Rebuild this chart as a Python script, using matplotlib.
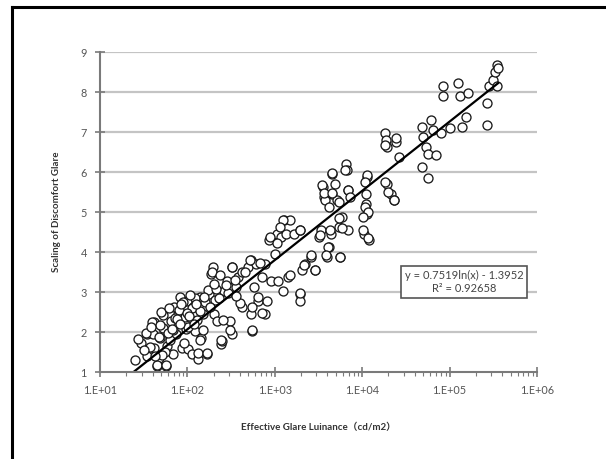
import matplotlib
matplotlib.use("Agg")
import matplotlib.pyplot as plt
import numpy as np
from matplotlib.lines import Line2D
from matplotlib.ticker import LogLocator, NullFormatter, FixedLocator

# log10 of effective glare luminance and the glare rating for each subject answer
log_lum = [
    1.40, 1.54, 1.54, 1.62, 1.61, 1.62, 1.65, 1.67, 1.69, 1.72,
    1.76, 1.77, 1.81, 1.83, 1.85, 1.87, 1.89, 1.92, 1.94, 1.98,
    2.00, 2.01, 2.05, 2.06, 2.07, 2.09, 2.12, 2.14, 2.16, 2.18,
    2.23, 2.25, 2.27, 2.29, 2.31, 2.34, 2.38, 2.40, 2.42, 2.45,
    2.49, 2.51, 2.51, 2.56, 2.58, 2.62, 2.69, 2.73, 2.73, 2.74,
    2.76, 2.78, 2.81, 2.85, 2.89, 2.89, 2.91, 2.93, 2.96, 3.00,
    3.02, 3.04, 3.07, 3.09, 3.11, 3.13, 3.15, 3.18, 3.22, 3.29,
    3.29, 3.29, 3.31, 3.35, 3.42, 3.46, 3.51, 3.53, 3.55, 3.56,
    3.57, 3.60, 3.62, 3.62, 3.64, 3.66, 3.66, 3.69, 3.71, 3.73,
    3.75, 3.77, 3.82, 3.83, 3.84, 3.84, 4.02, 4.04, 4.04, 4.06,
    4.06, 4.08, 4.26, 4.27, 4.28, 4.28, 4.33, 4.37, 4.39, 4.42,
    4.68, 4.68, 4.70, 4.73, 4.75, 4.75, 4.79, 4.81, 4.84, 4.90,
    4.92, 4.92, 5.01, 5.10, 5.12, 5.14, 5.19, 5.21, 5.43, 5.43,
    5.45, 5.50, 5.52, 5.54, 5.56, 5.54,
    1.53, 1.59, 1.57, 1.67, 1.69, 1.65, 1.76, 1.74, 1.80, 1.84,
    1.86, 1.90, 1.95, 1.97, 2.01, 2.05, 2.09, 2.11, 2.14, 2.12,
    2.22, 2.18, 2.24, 2.28, 2.32, 2.37, 2.39, 2.41, 2.47, 2.51,
    2.49, 2.54, 2.60, 2.62, 2.72, 2.74, 2.74, 2.81, 2.85, 2.83,
    3.80, 3.65, 3.54, 3.56, 3.65, 3.73, 3.84, 3.86, 4.05, 4.03,
    4.26, 4.39, 4.26, 4.30, 4.36, 4.03, 4.07, 4.01, 4.01, 4.07,
    3.73, 3.77, 3.63, 3.52, 3.61, 3.59, 3.75, 3.10, 3.06, 2.95,
    3.02, 3.29, 3.42, 3.33, 3.46, 3.17, 3.29,
    1.47, 1.58, 1.72, 1.78, 1.88, 1.93, 1.99, 2.03, 2.08, 2.15,
    2.20, 2.26, 2.33, 2.36, 2.44, 1.71, 1.82, 1.96, 2.02, 2.19,
    1.44, 1.50, 1.63, 1.70, 1.79, 1.91, 2.10, 2.30, 2.56, 2.66,
]
scaling = [
    1.29, 1.39, 1.95, 2.26, 1.95, 1.61, 1.15, 1.36, 1.86, 2.11,
    1.15, 1.65, 2.28, 1.44, 2.62, 1.95, 2.45, 2.87, 1.61, 2.07,
    2.78, 1.57, 1.44, 2.62, 2.28, 2.03, 1.32, 2.87, 1.86, 2.45,
    1.44, 2.95, 3.45, 3.62, 2.45, 2.28, 1.69, 1.78, 3.03, 3.28,
    2.28, 1.95, 3.62, 3.12, 3.37, 2.62, 3.62, 3.79, 2.45, 2.03,
    3.12, 3.70, 2.78, 3.37, 3.70, 2.45, 2.78, 4.29, 3.28, 3.95,
    4.46, 3.28, 4.37, 3.03, 4.79, 4.46, 3.37, 4.79, 4.46, 4.54,
    2.95, 2.78, 3.54, 3.70, 3.87, 3.54, 4.37, 4.54, 5.63, 5.38,
    5.29, 3.87, 4.12, 5.13, 4.46, 5.96, 5.46, 5.71, 5.29, 4.62,
    3.87, 4.87, 6.21, 6.05, 5.54, 4.54, 4.46, 5.21, 5.46, 5.88,
    4.96, 4.29, 6.97, 6.80, 6.63, 5.71, 5.46, 5.29, 6.76, 6.38,
    6.13, 7.13, 6.88, 6.63, 5.84, 6.46, 7.30, 7.05, 6.42, 6.97,
    8.14, 7.89, 7.09, 8.22, 7.89, 7.13, 7.38, 7.97, 7.17, 7.72,
    8.14, 8.31, 8.51, 8.68, 8.60, 8.14,
    1.97, 2.26, 1.63, 1.88, 2.18, 1.18, 1.18, 1.51, 1.80, 2.05,
    2.34, 2.55, 2.76, 2.38, 2.13, 2.59, 2.84, 2.30, 1.80, 1.47,
    1.47, 2.05, 3.05, 3.51, 2.80, 3.43, 1.80, 2.30, 2.97, 3.63,
    2.05, 3.30, 2.72, 3.51, 3.80, 2.63, 2.05, 2.88, 2.47, 3.72,
    6.05, 5.97, 5.68, 5.47, 5.47, 5.26, 5.55, 5.38, 5.93, 5.76,
    6.68, 6.84, 5.76, 5.51, 5.30, 5.13, 5.01, 4.88, 4.55, 4.34,
    4.84, 4.59, 4.55, 4.43, 4.13, 3.93, 3.88, 4.80, 4.63, 4.38,
    4.22, 4.55, 3.93, 3.68, 3.55, 3.43, 2.97,
    1.72, 2.12, 2.42, 1.98, 2.32, 2.70, 2.48, 2.92, 2.20, 2.52,
    2.74, 2.62, 3.08, 2.86, 3.18, 1.42, 2.08, 1.72, 2.40, 2.88,
    1.82, 1.55, 1.40, 2.50, 2.60, 2.20, 2.70, 3.20, 2.90, 3.50,
]

# logarithmic trend line reported in the box
coef_a = 0.7519
coef_b = -1.3952
r2 = 0.92658

x_labels = ["1.E+01", "1.E+02", "1.E+03", "1.E+04", "1.E+05", "1.E+06"]
y_ticks = [1, 2, 3, 4, 5, 6, 7, 8, 9]

lum = 10 ** np.array(log_lum)
sc = np.array(scaling)

fig = plt.figure(figsize=(6.06, 4.59), dpi=100)
ax = fig.add_axes([0.165, 0.1895, 0.721, 0.697])

axis_gray = "#7a7a7a"
ax.set_xscale("log")
ax.set_xlim(10, 1e6)
ax.set_ylim(1, 9)

for y in y_ticks[1:]:
    ax.axhline(y, color="#c4c4c4", lw=1.6, zorder=0)

ax.scatter(lum, sc, s=42, facecolors="white", edgecolors="#1a1a1a",
           linewidths=0.95, zorder=3)

xf = np.logspace(np.log10(np.exp((1 - coef_b) / coef_a)), np.log10(3.6e5), 200)
ax.plot(xf, coef_a * np.log(xf) + coef_b, color="black", lw=1.6, zorder=4)

for side in ("top", "right"):
    ax.spines[side].set_visible(False)
for side in ("left", "bottom"):
    ax.spines[side].set_color(axis_gray)
    ax.spines[side].set_linewidth(1.5)
    ax.spines[side].set_zorder(5)

ax.xaxis.set_major_locator(FixedLocator([10 ** k for k in range(1, 7)]))
ax.set_xticklabels(x_labels)
ax.xaxis.set_minor_locator(LogLocator(base=10, subs=np.arange(2, 10)))
ax.xaxis.set_minor_formatter(NullFormatter())
ax.set_yticks(y_ticks)
ax.tick_params(axis="x", which="major", direction="inout", length=7,
               width=1.2, color=axis_gray, labelsize=7.8,
               labelcolor="#555555", pad=6)
ax.tick_params(axis="x", which="minor", direction="out", length=3,
               width=0.8, color=axis_gray)
ax.tick_params(axis="y", direction="inout", length=7, width=1.2,
               color=axis_gray, labelsize=7.8, labelcolor="#555555", pad=6)
for lab in ax.get_xticklabels() + ax.get_yticklabels():
    lab.set_family("Lato")

ax.set_ylabel("Scaling of Discomfort Glare", family=["Lato", "Noto Sans CJK JP"],
              fontsize=7, fontweight="bold", color="#333333", labelpad=14)
ax.set_xlabel("Effective Glare Luinance（cd/m2）",
              family=["Lato", "Noto Sans CJK JP"], fontsize=7,
              fontweight="bold", color="#333333", labelpad=19)

fig.text(0.766, 0.386, f"y = {coef_a}ln(x) - {-coef_b}\nR² = {r2}",
         ha="center", va="center", fontsize=8, family="Lato",
         color="#444444", linespacing=1.2,
         bbox=dict(boxstyle="square,pad=0.35", fc="white", ec="#555555", lw=1.2),
         zorder=6)

# outer frame, open on the right and bottom
fig.add_artist(Line2D([12 / 606, 12 / 606], [0, 1 - 7 / 459],
                      transform=fig.transFigure, color="black", lw=2.2))
fig.add_artist(Line2D([12 / 606, 1], [1 - 7 / 459, 1 - 7 / 459],
                      transform=fig.transFigure, color="black", lw=2.2))

fig.savefig("out.png", dpi=100)
